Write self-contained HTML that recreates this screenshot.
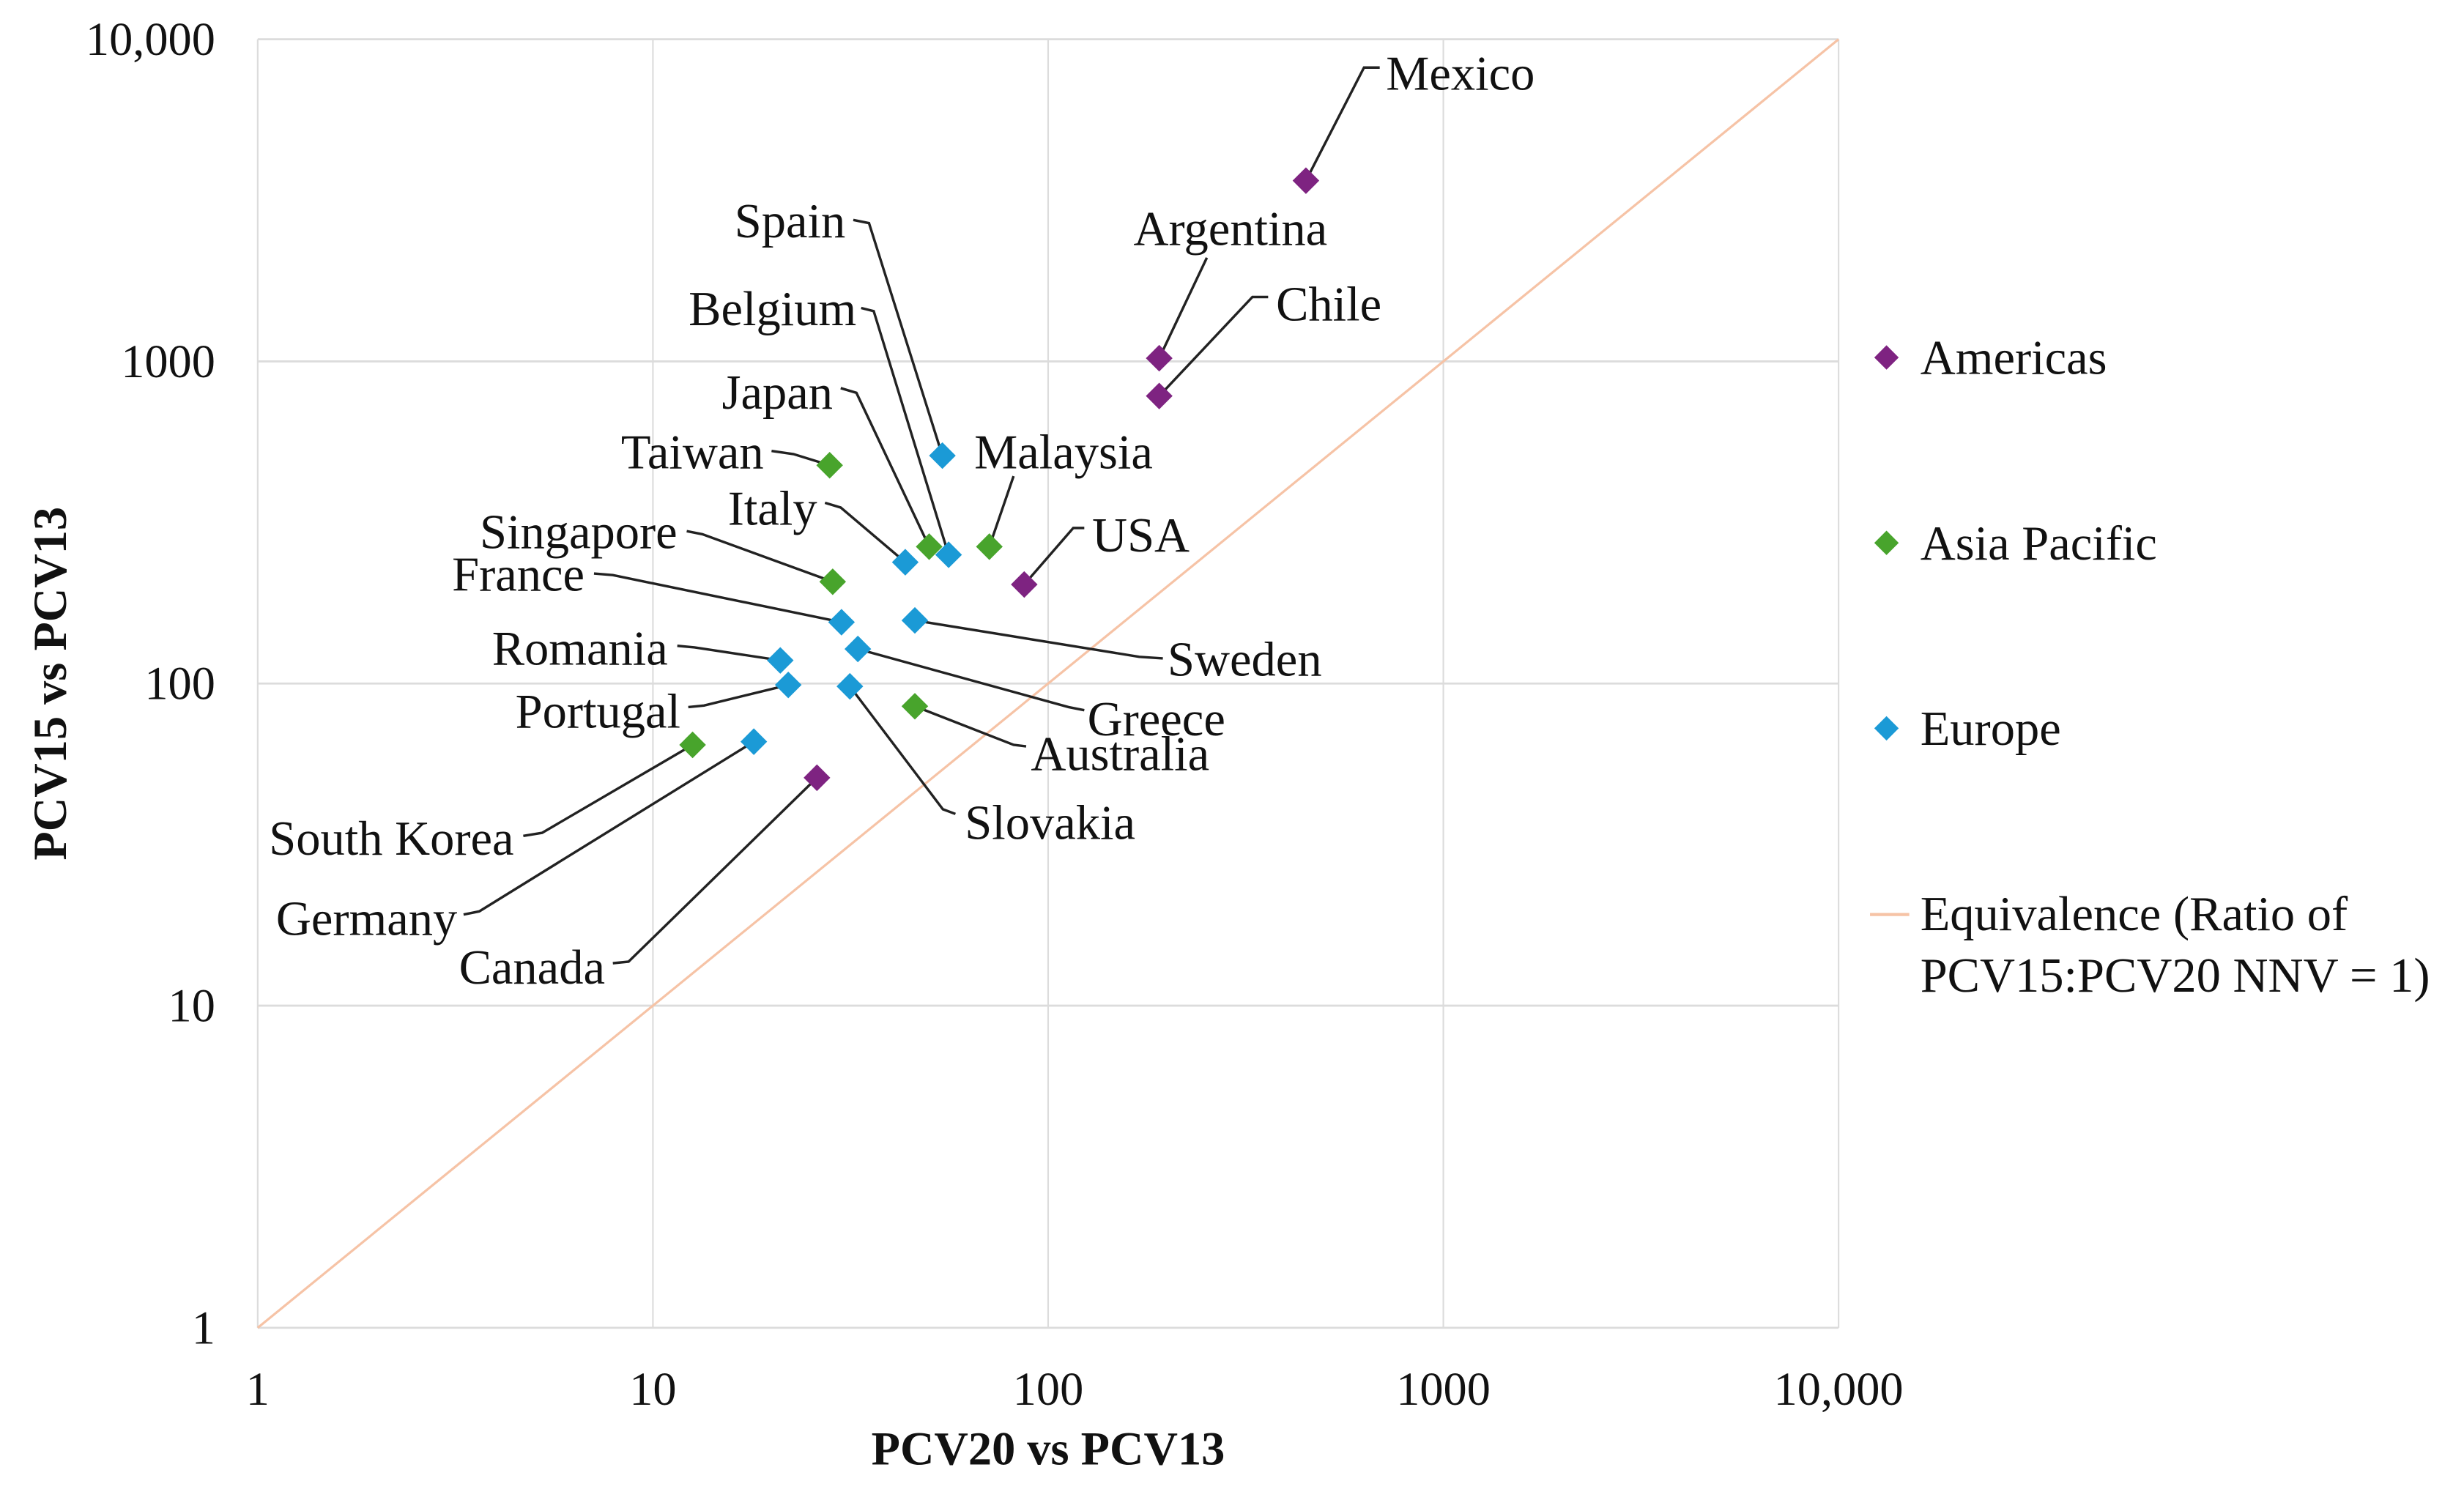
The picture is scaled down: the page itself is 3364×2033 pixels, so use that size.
<!DOCTYPE html>
<html><head><meta charset="utf-8"><style>
html,body{margin:0;padding:0;background:#fff;}
svg{display:block;}
text{font-family:"Liberation Serif",serif;fill:#111;}
</style></head><body>
<svg id="chart" xmlns="http://www.w3.org/2000/svg" width="3364" height="2033" viewBox="0 0 1568 947.6">
<g id="grid"></g>
<g id="axes"></g>
<g id="leaders"></g>
<g id="points"></g>
<g id="labels"></g>
<text transform="translate(42,435) rotate(-90)" text-anchor="middle" font-size="30" font-weight="bold">PCV15 vs PCV13</text>
<text x="667" y="932" text-anchor="middle" font-size="30" font-weight="bold">PCV20 vs PCV13</text>
<g>
  <rect x="1195" y="222" width="11" height="11" transform="rotate(45 1200.5 227.5)" fill="#7e2381"/>
  <text x="1222" y="238" font-size="31">Americas</text>
  <rect x="1195" y="340" width="11" height="11" transform="rotate(45 1200.5 345.5)" fill="#48a42c"/>
  <text x="1222" y="356" font-size="31">Asia Pacific</text>
  <rect x="1195" y="458" width="11" height="11" transform="rotate(45 1200.5 463.5)" fill="#1b9ad6"/>
  <text x="1222" y="474" font-size="31">Europe</text>
  <line x1="1190" y1="582" x2="1215" y2="582" stroke="#f6c3a6" stroke-width="2"/>
  <text x="1222" y="592" font-size="31">Equivalence (Ratio of</text>
  <text x="1222" y="631" font-size="31">PCV15:PCV20 NNV = 1)</text>
</g>
</svg>
<script>
const countries = ["Mexico","Argentina","Chile","USA","Malaysia","Taiwan","Spain","Belgium","Japan","Italy","Singapore","France","Sweden","Greece","Romania","Portugal","Slovakia","Australia","South Korea","Germany","Canada"];
const regions = ["Americas","Americas","Americas","Americas","Asia Pacific","Asia Pacific","Europe","Europe","Asia Pacific","Europe","Asia Pacific","Europe","Europe","Europe","Europe","Europe","Europe","Asia Pacific","Asia Pacific","Europe","Americas"];
const pcv20vs13 = [449,191,191,87,71,28,54,56,50,43.5,28.5,30,46,33,21,22,31.5,46,12.6,18,26];
const pcv15vs13 = [3640,1023,781,203,266,476,510,251,266,238,207,155,157,128,118,99,98,85,64.5,66,51];
const tickValues = [1,10,100,1000,10000];
const tickLabels = ["1","10","100","1000","10,000"];

const colors = {"Americas":"#7e2381","Asia Pacific":"#48a42c","Europe":"#1b9ad6"};
const X0=164, X1=1170, Y0=845, Y1=25;
function xs(v){return X0+(Math.log10(v)/4)*(X1-X0);}
function ys(v){return Y0-(Math.log10(v)/4)*(Y0-Y1);}
const labelLayout = {
 "Mexico":[882,57,"start",[[878,43],[868,43]]],
 "Argentina":[783,156,"middle",[[768,164]]],
 "Chile":[812,204,"start",[[807,189],[797,189]]],
 "USA":[695,351,"start",[[690,336],[683,336]]],
 "Malaysia":[620,298,"start",[[645,303]]],
 "Spain":[538,151,"end",[[543,140],[553,142]]],
 "Belgium":[545,207,"end",[[548,196],[556,198]]],
 "Japan":[530,260,"end",[[535,247],[545,250]]],
 "Taiwan":[486,298,"end",[[491,287],[505,289]]],
 "Italy":[520,334,"end",[[525,320],[535,323]]],
 "Singapore":[431,349,"end",[[437,338],[447,340]]],
 "France":[372,376,"end",[[378,365],[390,366]]],
 "Sweden":[743,430,"start",[[740,419],[725,418]]],
 "Romania":[425,423,"end",[[431,411],[442,412]]],
 "Greece":[692,468,"start",[[690,452],[680,450]]],
 "Portugal":[433,463,"end",[[438,450],[448,449]]],
 "Australia":[656,490,"start",[[653,475],[645,474]]],
 "Slovakia":[614,534,"start",[[608,518],[600,515]]],
 "South Korea":[327,544,"end",[[333,532],[345,530]]],
 "Germany":[291,595,"end",[[295,582],[305,580]]],
 "Canada":[385,626,"end",[[390,613],[400,612]]]
};
const NS="http://www.w3.org/2000/svg";
function mk(tag,attrs,parent){const e=document.createElementNS(NS,tag);for(const k in attrs)e.setAttribute(k,attrs[k]);parent.appendChild(e);return e;}
const grid=document.getElementById('grid'), axes=document.getElementById('axes');
tickValues.forEach((v,i)=>{
  const gx=mk('line',{x1:xs(v),x2:xs(v),y1:Y1,y2:Y0,stroke:'#dcdcdc','stroke-width':1},grid);
  
  
  const gy=mk('line',{x1:X0,x2:X1,y1:ys(v),y2:ys(v),stroke:'#dcdcdc','stroke-width':1.3},grid);
  
  
  const tx=mk('text',{x:xs(v),y:894,'text-anchor':'middle','font-size':30},axes);
  tx.textContent=tickLabels[i];
  
  
  const ty=mk('text',{x:137,y:ys(v)+10,'text-anchor':'end','font-size':30},axes);
  ty.textContent=tickLabels[i];
  
  
});
const eq=mk('line',{x1:xs(1),y1:ys(1),x2:xs(10000),y2:ys(10000),stroke:'#f6c3a6','stroke-width':1.5},grid);


const leaders=document.getElementById('leaders'), pts=document.getElementById('points'), labs=document.getElementById('labels');
countries.forEach((c,i)=>{
  const px=xs(pcv20vs13[i]), py=ys(pcv15vs13[i]);
  const L=labelLayout[c];
  const pp=L[3].map(p=>p.join(',')).concat([px+','+py]).join(' ');
  const pl=mk('polyline',{points:pp,fill:'none',stroke:'#222','stroke-width':1.6},leaders);
  
  
  const d=mk('rect',{x:px-6,y:py-6,width:12,height:12,fill:colors[regions[i]],transform:`rotate(45 ${px} ${py})`},pts);
  
  
  const t=mk('text',{x:L[0],y:L[1],'text-anchor':L[2],'font-size':31},labs);
  t.textContent=c;
  
  
});
</script>
</body></html>
